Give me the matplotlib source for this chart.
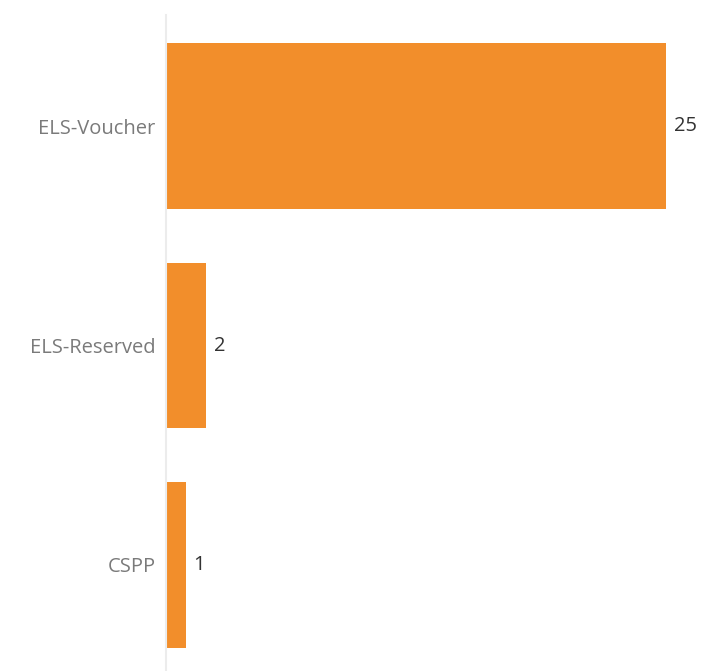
import matplotlib
matplotlib.use('Agg')
import matplotlib.pyplot as plt

categories = ['ELS-Voucher', 'ELS-Reserved', 'CSPP']
values = [25, 2, 1]

BAR_COLOR = '#F28E2B'

plt.rcParams['font.family'] = ['Open Sans', 'DejaVu Sans']

fig = plt.figure(figsize=(7.06, 6.71), dpi=100)
ax = fig.add_axes([166 / 706, 0, 540 / 706, 656 / 671])

pos = list(range(len(categories)))
ax.barh(pos, values, height=0.756, color=BAR_COLOR, zorder=2)

for p, v in zip(pos, values):
    ax.annotate(str(v), (v, p), xytext=(5.5, 0), textcoords='offset points',
                va='center', ha='left', fontsize=14.5, color='#333333')

ax.set_xlim(0, 27)
ax.set_ylim(2.483, -0.506)
ax.set_yticks(pos)
ax.set_yticklabels(categories, fontsize=14.5, color='#7a7a7a')
ax.tick_params(axis='y', length=0, pad=7.5)
ax.set_xticks([])

for s in ['top', 'right', 'bottom']:
    ax.spines[s].set_visible(False)
ax.spines['left'].set_color('#ececec')
ax.spines['left'].set_linestyle((0, (3, 1)))
ax.spines['left'].set_linewidth(1.5)

fig.savefig('out.png', dpi=100)
